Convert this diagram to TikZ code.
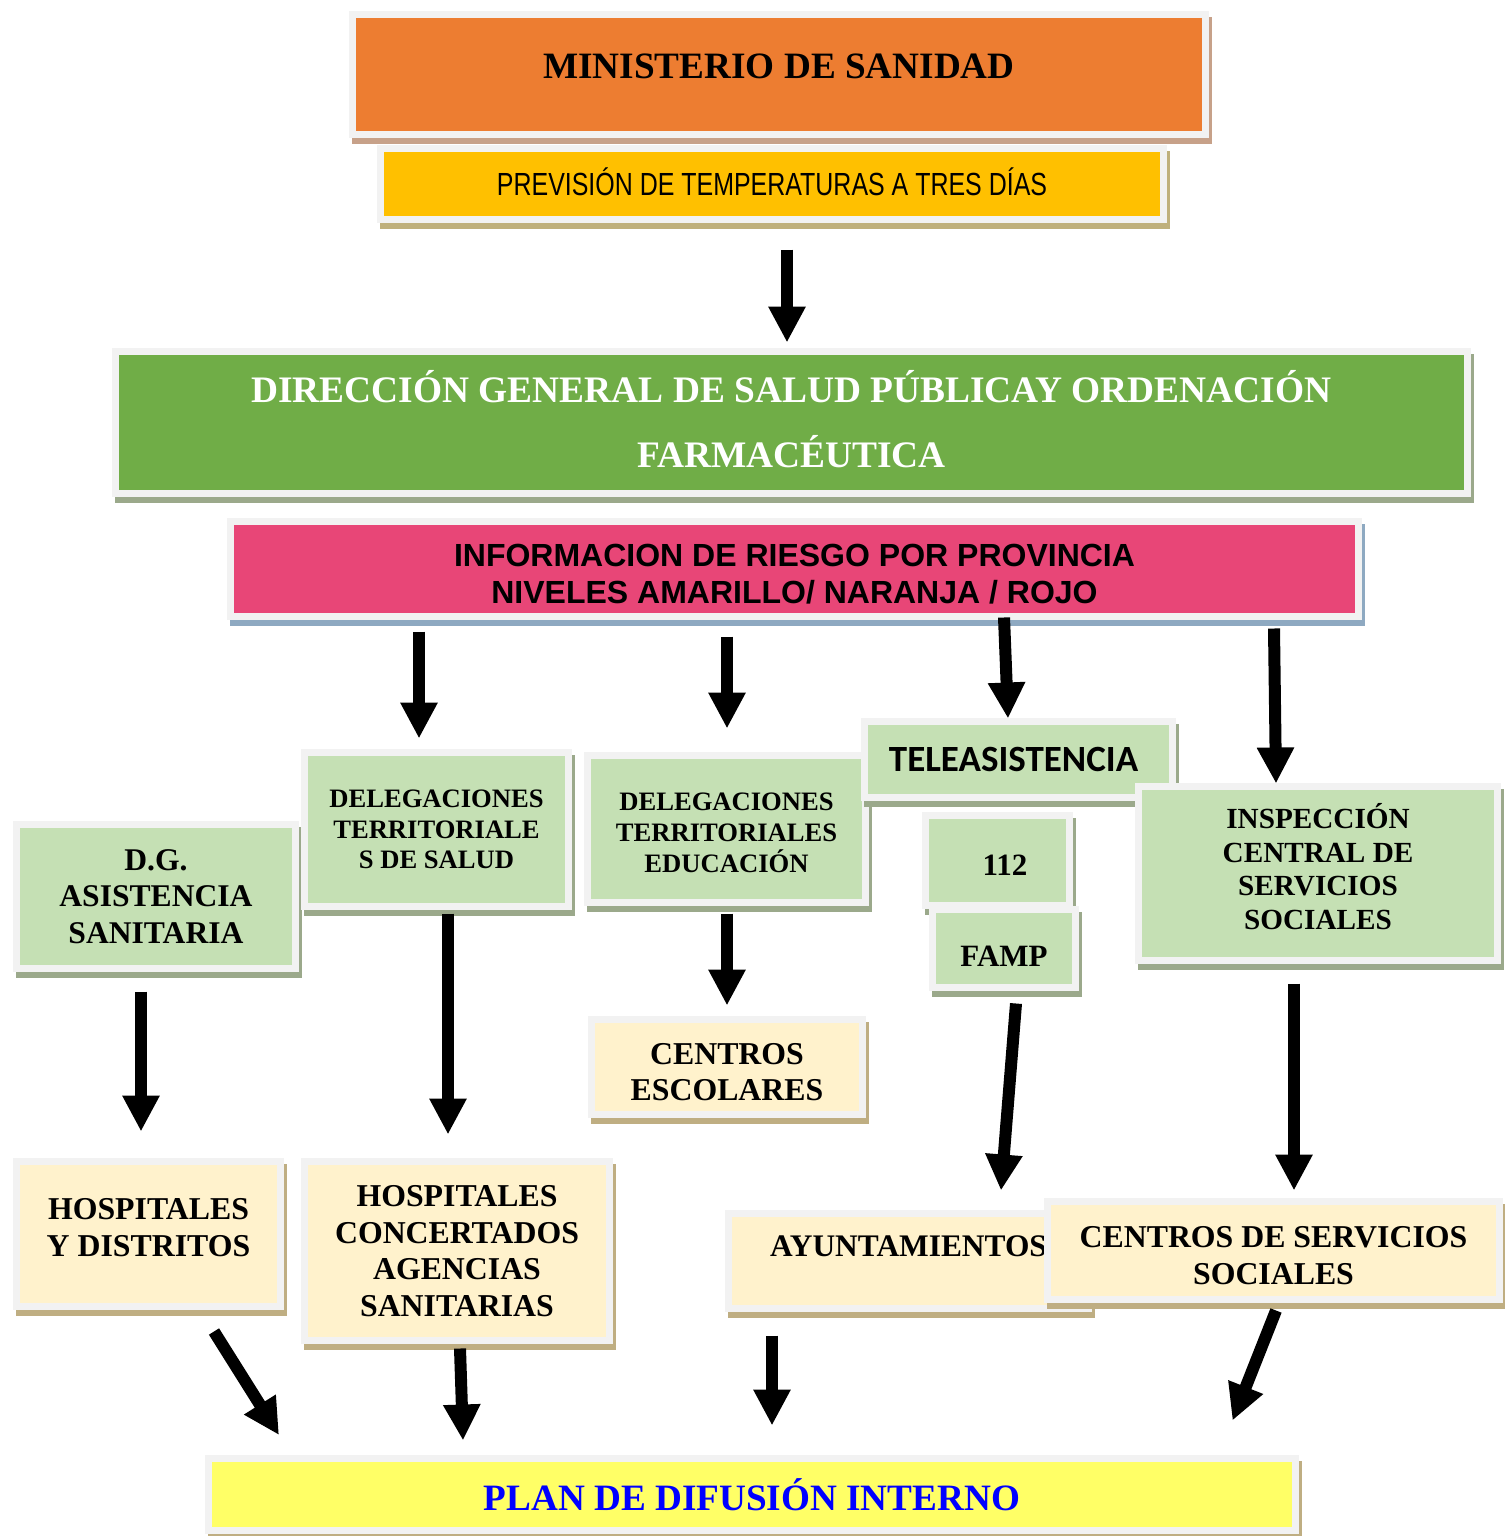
\documentclass[tikz,border=0pt]{standalone}
\usepackage{fontspec}
\setmainfont{Liberation Serif}
\newfontfamily\arialf{Liberation Sans}
\newfontfamily\narrowf[FakeStretch=0.78]{Liberation Sans}
\newfontfamily\calibf{Carlito}
\usetikzlibrary{arrows.meta,shadows}
\definecolor{frame}{HTML}{F2F2F2}
\definecolor{orangebox}{HTML}{ED7D31}
\definecolor{goldbox}{HTML}{FFC000}
\definecolor{greenbox}{HTML}{70AD47}
\definecolor{pinkbox}{HTML}{E84677}
\definecolor{lightgreen}{HTML}{C5E0B4}
\definecolor{cream}{HTML}{FFF2CC}
\definecolor{lemon}{HTML}{FFFF66}
\definecolor{shorange}{HTML}{C7A189}
\definecolor{shgold}{HTML}{BFB07C}
\definecolor{shgreen}{HTML}{9BA98B}
\definecolor{shpink}{HTML}{8EA9C1}
\definecolor{shcream}{HTML}{BFAE82}
\newcommand{\fs}[2]{\fontsize{#1}{#2}\selectfont}
\newcommand{\lift}[1]{\rule[-#1]{0pt}{#1}}
\newcommand{\drop}[1]{\rule{0pt}{#1}}

\begin{document}
\begin{tikzpicture}[x=0.5pt,y=-0.5pt,
    box/.style={draw=frame,line width=3.5pt,inner sep=0pt,align=center},
    sh/.style={general shadow={fill=#1,draw=#1,line width=3.5pt,shadow xshift=1.5pt,shadow yshift=-3pt}},
    arr/.style={line width=6pt,-{Triangle[width=17.5pt,length=18pt]}}]
    \useasboundingbox (0,0) rectangle (1504,1536);
    \node[box,fill=orangebox,sh=shorange,minimum width=426.5pt,minimum height=60pt,font=\fs{18.6}{22}\bfseries] (mini) at (779,74.5) {\lift{8.5pt}MINISTERIO DE SANIDAD};
    \node[box,fill=goldbox,sh=shgold,minimum width=391.5pt,minimum height=35.5pt,font=\narrowf\fs{16}{18}] (prev) at (772,184) {PREVISIÓN DE TEMPERATURAS A TRES DÍAS\lift{2pt}};
    \node[box,fill=greenbox,sh=shgreen,minimum width=676pt,minimum height=71pt,text=white,font=\fs{18.7}{32.5}\bfseries] (dir) at (791.5,422.5) {DIRECCIÓN GENERAL DE SALUD PÚBLICAY ORDENACIÓN\\FARMACÉUTICA\lift{4pt}};
    \node[box,fill=pinkbox,sh=shpink,minimum width=564pt,minimum height=47.5pt,font=\arialf\fs{16}{18.5}\bfseries] (info) at (794.5,569) {\drop{16.5pt}INFORMACION DE RIESGO POR PROVINCIA\\NIVELES AMARILLO/ NARANJA / ROJO};
    \node[box,fill=lightgreen,sh=shgreen,minimum width=139.5pt,minimum height=72pt,font=\fs{15.8}{18.25}\bfseries] (dgas) at (156,896.5) {D.G.\\ASISTENCIA\\SANITARIA};
    \node[box,fill=lightgreen,sh=shgreen,minimum width=132pt,minimum height=77pt,font=\fs{13.3}{15.4}\bfseries] (dsal) at (436.5,829.5) {DELEGACIONES\\TERRITORIALE\\S DE SALUD};
    \node[box,fill=lightgreen,sh=shgreen,minimum width=139pt,minimum height=73.5pt,font=\fs{13.3}{15.4}\bfseries] (dedu) at (726.5,829) {\drop{12.8pt}DELEGACIONES\\TERRITORIALES\\EDUCACIÓN};
    \node[box,fill=lightgreen,sh=shgreen,minimum width=154pt,minimum height=38pt,font=\calibf\fs{18.5}{22}\bfseries] (tele) at (1018.5,759.5) {TELEASISTENCIA\hspace*{5pt}};
    \node[box,fill=lightgreen,sh=shgreen,minimum width=72pt,minimum height=45pt,font=\fs{15.5}{18}\bfseries] (n112) at (997.5,860.5) {\hspace*{7.5pt}\drop{14.5pt}112};
    \node[box,fill=lightgreen,sh=shgreen,minimum width=71.5pt,minimum height=39pt,font=\fs{15.5}{18}\bfseries] (famp) at (1004,948.5) {\drop{18.3pt}FAMP};
    \node[box,fill=lightgreen,sh=shgreen,minimum width=179.5pt,minimum height=87pt,font=\fs{14.6}{16.8}\bfseries] (insp) at (1318,873.5) {INSPECCIÓN\\CENTRAL DE\\SERVICIOS\\SOCIALES\lift{7pt}};
    \node[box,fill=cream,sh=shcream,minimum width=135.5pt,minimum height=47.5pt,font=\fs{15.9}{18}\bfseries] (cesc) at (727,1067) {\drop{15.5pt}CENTROS\\ESCOLARES};
    \node[box,fill=cream,sh=shcream,minimum width=132pt,minimum height=72.5pt,font=\fs{15.9}{18.5}\bfseries] (hdis) at (148.5,1234) {HOSPITALES\\Y DISTRITOS\lift{6.5pt}};
    \node[box,fill=cream,sh=shcream,minimum width=152.5pt,minimum height=89.5pt,font=\fs{15.9}{18.35}\bfseries] (hcon) at (457,1251) {HOSPITALES\\CONCERTADOS\\AGENCIAS\\SANITARIAS};
    \node[box,fill=cream,sh=shcream,minimum width=180pt,minimum height=47.5pt,font=\fs{15.7}{18}\bfseries] (ayun) at (908.5,1261) {\lift{15pt}AYUNTAMIENTOS};
    \node[box,fill=cream,sh=shcream,minimum width=226pt,minimum height=49pt,font=\fs{15.9}{18.5}\bfseries] (css) at (1273.5,1250.5) {\drop{15.5pt}CENTROS DE SERVICIOS\\SOCIALES};
    \node[box,fill=lemon,sh=shcream,minimum width=543.5pt,minimum height=36pt,text=blue,font=\fs{18.6}{22}\bfseries] (plan) at (752,1494.5) {PLAN DE DIFUSIÓN INTERNO};
    \draw[arr] ([shift={(15,26.5)}]prev.south) -- ([shift={(-4.5,-5.5)}]dir.north);
    \draw[arr] ([shift={(-375.5,11.5)}]info.south) -- ([shift={(-17.5,-10.5)}]dsal.north);
    \draw[arr] ([shift={(-67.5,16.5)}]info.south) -- ([shift={(0.5,-23.5)}]dedu.north);
    \draw[arr] ([shift={(209.5,-2.5)}]info.south) -- ([shift={(-10.5,0.5)}]tele.north);
    \draw[arr] ([shift={(479.5,8.5)}]info.south) -- ([shift={(-42,0.5)}]insp.north);
    \draw[arr] ([shift={(-15,19.5)}]dgas.south) -- ([shift={(-7.5,-26.5)}]hdis.north);
    \draw[arr] ([shift={(11.5,3.5)}]dsal.south) -- ([shift={(-9,-23.5)}]hcon.north);
    \draw[arr] ([shift={(0.5,7.5)}]dedu.south) -- ([shift={(0,-10.5)}]cesc.north);
    \draw[arr] ([shift={(12,12.5)}]famp.south) -- ([shift={(92.5,-19.5)}]ayun.north);
    \draw[arr] ([shift={(-24,19.5)}]insp.south) -- ([shift={(20.5,-7.5)}]css.north);
    \draw[arr] ([shift={(65.5,21.5)}]hdis.south) -- ([shift={(-473,-20)}]plan.north);
    \draw[arr] ([shift={(3,4.5)}]hcon.south) -- ([shift={(-289,-14.5)}]plan.north);
    \draw[arr] ([shift={(-136.5,23.5)}]ayun.south) -- ([shift={(20,-29.5)}]plan.north);
    \draw[arr] ([shift={(2.5,7.5)}]css.south) -- ([shift={(480.5,-34.5)}]plan.north);
\end{tikzpicture}
\end{document}
